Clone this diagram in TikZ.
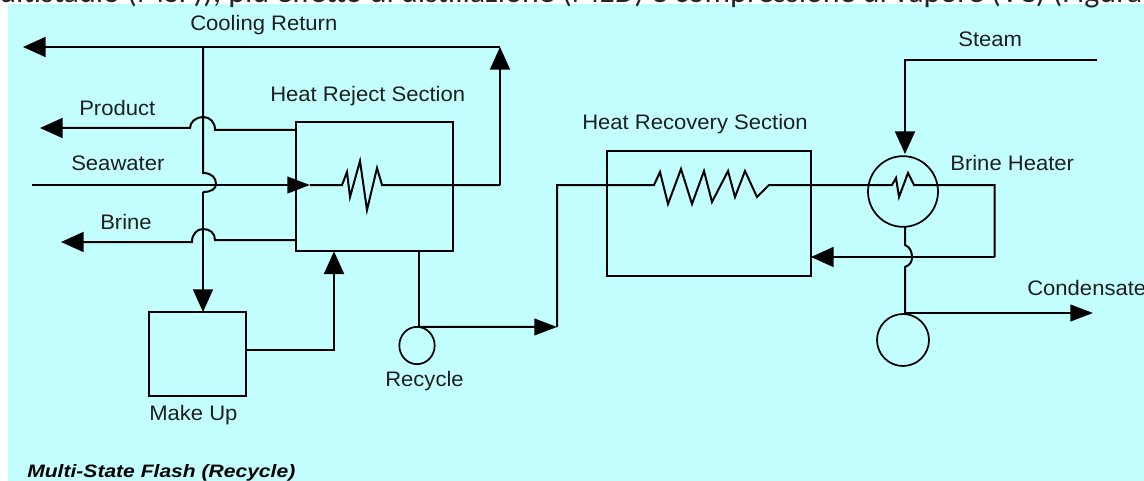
\documentclass[tikz,border=0pt]{standalone}
\usepackage{fontspec}
\setmainfont{Liberation Sans}
\newfontfamily\capfont{Carlito}
\usetikzlibrary{arrows.meta,shapes.geometric}
\definecolor{panel}{HTML}{C3FFFF}
\tikzset{
  x=0.75pt,y=-0.75pt,
  wire/.style={line width=1.5pt,line join=miter},
  tipped/.style={wire,-{Triangle[length=17pt,width=15pt]}},
  tipped small/.style={wire,-{Triangle[length=17pt,width=12.5pt]}},
  vessel/.style={draw,line width=1.5pt,rectangle,anchor=north west,inner sep=0pt,outer sep=0pt},
  drum/.style={draw,line width=1.3pt,ellipse,inner sep=0pt,outer sep=0pt},
  lab/.style={font=\fontsize{15.75pt}{16pt}\selectfont,anchor=base west,inner sep=0pt,xscale=1.05,text=black!88},
}
\begin{document}
\begin{tikzpicture}
\useasboundingbox (0,0) rectangle (1144,481);
\fill[panel] (8,4) rectangle (1144,481);
\begin{scope}
\clip (0,0) rectangle (1144,481);
\node[anchor=base west,inner sep=0pt,text=black!85] (head) at (-1,3)
  {\capfont\fontsize{24pt}{26pt}\selectfont ultistadio (MSF)), più effetto di distillazione (MED) e compressione di vapore (VC) (Figura};
\end{scope}

% vessels
\node[vessel,minimum width=118pt,minimum height=97pt] (reject) at (296,122) {};
\node[vessel,minimum width=153pt,minimum height=94pt] (recovery) at (607,151) {};
\node[vessel,minimum width=73pt,minimum height=63pt] (makeup) at (149,312) {};
\node[drum,minimum width=26.5pt,minimum height=28pt] (pump) at (417,345.5) {};
\node[drum,minimum width=52.5pt,minimum height=53pt] (heater) at (903,191.5) {};
\node[drum,minimum width=39pt,minimum height=39pt] (cond) at (903,340) {};

% free ends and bends
\coordinate (coolend) at (23,47);
\coordinate (coolcorner) at (500,47);
\coordinate (coolj) at (203,47);
\coordinate (productend) at (40,128);
\coordinate (brineend) at (61,242);
\coordinate (seain) at (32,185);
\coordinate (steamin) at (1097,60);
\coordinate (condend) at (1093,313);

% cooling return
\draw[tipped] (coolcorner) -- (coolend);
\draw[tipped] (500,185) -- (coolcorner);
\draw[wire] (coolj) -- (203,173)
  .. controls (212,173) and (216,178) .. (216,184)
  .. controls (216,189) and (211,192) .. (203,192);
\draw[tipped] (203,192) -- (makeup.north west -| 203,312);

% product and brine
\draw[tipped] (reject.west |- 0,130) -- (215,130)
  .. controls (215,122) and (210,117) .. (203,117)
  .. controls (196,117) and (190,122) .. (190,128) -- (productend);
\draw[tipped] (reject.west |- 0,240) -- (215,240)
  .. controls (215,233) and (210,229) .. (203,229)
  .. controls (197,229) and (192,234) .. (192,242) -- (brineend);

% seawater and heat reject coil
\draw[tipped small] (seain) -- (310,185);
\draw[wire] (310,185) -- (342,185) -- (347,172) -- (350,197) -- (360,161) -- (367,210) -- (377,168) -- (382,185) -- (500,185);

% make up
\draw[tipped] (makeup.east |- 0,350) -- (334,350) -- (reject.south west -| 334,251);

% recycle
\draw[wire] (reject.south west -| 419,251) -- (pump.north -| 419,327);
\draw[tipped small] (pump.north -| 419,327) -- (557,327);
\draw[wire] (557,327) -- (557,185) -- (654,185) -- (660,172) -- (668,204) -- (681,169) -- (692,204) -- (704,171) -- (712,202) -- (728,171) -- (735,197) -- (745,171) -- (757,197) -- (769,185) -- (892,185) -- (896,178) -- (899,197) -- (908,173) -- (914,185) -- (994.5,185) -- (994.5,257);
\draw[tipped] (994.5,257) -- (recovery.east |- 0,257);

% steam
\draw[tipped] (steamin) -- (905,60) -- (905,154);
\draw[wire] (905,227) -- (905,245)
  .. controls (910,247) and (912,252) .. (912,257)
  .. controls (912,262) and (910,265) .. (905,267) -- (905,314);
\draw[tipped small] (905,313) -- (condend);

% labels
\node[lab] (tcool) at (190,31) {Cooling Return};
\node[lab] (treject) at (270,102) {Heat Reject Section};
\node[lab] (tproduct) at (79,116) {Product};
\node[lab] (tsea) at (71,171) {Seawater};
\node[lab] (tbrine) at (100,229) {Brine};
\node[lab] (trecov) at (582,130) {Heat Recovery Section};
\node[lab] (tsteam) at (958,47) {Steam};
\node[lab] (theater) at (950,171) {Brine Heater};
\node[lab] (tcond) at (1027,295) {Condensate};
\node[lab] (trecycle) at (385,386) {Recycle};
\node[lab] (tmake) at (149,420) {Make Up};
\node[anchor=base west,inner sep=0pt,font=\fontsize{13.5pt}{14pt}\selectfont\bfseries\itshape,xscale=1.17] (title) at (27,477) {Multi-State Flash (Recycle)};
\end{tikzpicture}
\end{document}
